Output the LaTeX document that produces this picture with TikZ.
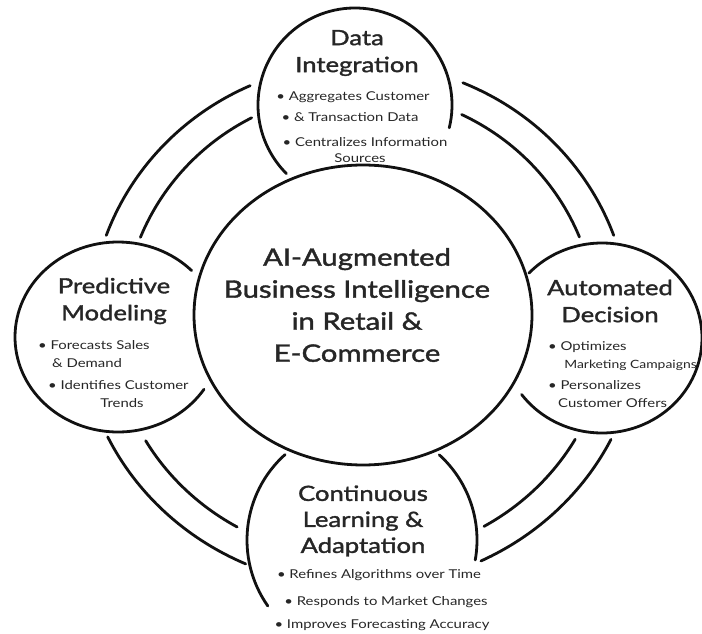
\documentclass[tikz,border=0pt]{standalone}
\usepackage{fontspec}
\setmainfont{Lato}[FakeStretch=1.22]
\newfontfamily\headfont{Lato}[FakeStretch=1.22, FakeBold=1.6]
\usetikzlibrary{shapes.geometric}
\definecolor{ink}{HTML}{111111}
\definecolor{txt}{HTML}{262626}

\tikzset{
  ringline/.style={draw=ink, line width=2.8pt, line cap=round},
  hubtitle/.style={text=txt, align=center, inner sep=0pt,
    font=\headfont\fontsize{24}{32}\selectfont},
  cardtitle/.style={text=txt, align=center, inner sep=0pt,
    font=\headfont\fontsize{21}{27}\selectfont},
  bullet/.style={text=txt, inner sep=0pt,
    font=\fontsize{12.2}{15}\selectfont},
}

\begin{document}
\begin{tikzpicture}[x=1pt, y=-1pt]
\useasboundingbox (0,0) rectangle (702,634);

% centres of the rings and the four topic circles
\coordinate (ringtop) at (360,325);
\coordinate (ringbot) at (360,322);
\coordinate (dataC)   at (355,105);
\coordinate (predC)   at (118,337);
\coordinate (autoC)   at (602,338);
\coordinate (learnC)  at (362,540);

% central hub
\node[ellipse, ringline, minimum width=338pt, minimum height=300pt, inner sep=0pt] (hub) at (363,315) {};
\node[hubtitle] (hubtext) at (357,305) {AI-Augmented\\Business Intelligence\\in Retail \&\\E-Commerce};

% outer ring, one arc per quarter
\draw[ringline] (ringtop) ++(114:270pt and 262pt) arc[start angle=114, end angle=160, x radius=270pt, y radius=262pt];
\draw[ringline] (ringtop) ++(20:270pt and 262pt) arc[start angle=20, end angle=67.6, x radius=270pt, y radius=262pt];
\draw[ringline] (ringbot) ++(205.7:280pt and 265pt) arc[start angle=205.7, end angle=245.9, x radius=280pt, y radius=265pt];
\draw[ringline] (ringbot) ++(295.6:280pt and 265pt) arc[start angle=295.6, end angle=333.7, x radius=280pt, y radius=265pt];

% inner ring
\draw[ringline] (ringtop) ++(117.2:237pt and 233pt) arc[start angle=117.2, end angle=157.9, x radius=237pt, y radius=233pt];
\draw[ringline] (ringtop) ++(22.2:237pt and 233pt) arc[start angle=22.2, end angle=64.6, x radius=237pt, y radius=233pt];
\draw[ringline] (ringbot) ++(210.2:248pt and 236pt) arc[start angle=210.2, end angle=240.3, x radius=248pt, y radius=236pt];
\draw[ringline] (ringbot) ++(300:248pt and 236pt) arc[start angle=300, end angle=330.2, x radius=248pt, y radius=236pt];

% topic circles, left open where they meet the hub and the rings
\draw[ringline] (dataC) ++(-13.6:97pt) arc[start angle=-13.6, end angle=225, radius=97pt];
\draw[ringline] (predC) ++(44.4:103pt and 95pt) arc[start angle=44.4, end angle=326.6, x radius=103pt, y radius=95pt];
\draw[ringline] (autoC) ++(216.5:100pt and 95pt) arc[start angle=216.5, end angle=497, x radius=100pt, y radius=95pt];
\draw[ringline] (learnC) ++(132:115pt) arc[start angle=132, end angle=215, radius=115pt];
\draw[ringline] (learnC) ++(47.8:115pt) arc[start angle=47.8, end angle=-10, radius=115pt];

% Data Integration
\node[cardtitle] (dataT) at (357,53) {Data\\Integration};
\node[bullet] (dataA) at (353,97)  {• Aggregates Customer};
\node[bullet] (dataB) at (350,117) {• \& Transaction Data};
\node[bullet] (dataC1) at (365,142) {• Centralizes Information};
\node[bullet] (dataD) at (360,158) {Sources};

% Predictive Modeling
\node[cardtitle] (predT) at (114,301) {Predictive\\Modeling};
\node[bullet, anchor=west] (predA) at (38,345)  {• Forecasts Sales};
\node[bullet, anchor=west] (predB) at (52,363)  {\& Demand};
\node[bullet, anchor=west] (predC1) at (48,385) {• Identifies Customer};
\node[bullet] (predD) at (122,403) {Trends};

% Automated Decision
\node[cardtitle] (autoT) at (610,301) {Automated\\Decision};
\node[bullet, anchor=west] (autoA) at (548,347) {• Optimizes};
\node[bullet, anchor=east, font=\fontsize{11.4}{15}\selectfont] (autoB) at (697,365) {Marketing Campaigns};
\node[bullet, anchor=west] (autoC1) at (548,385) {• Personalizes};
\node[bullet, anchor=west] (autoD) at (558,403) {Customer Offers};

% Continuous Learning & Adaptation
\node[cardtitle, font=\headfont\fontsize{21}{26}\selectfont] (learnT) at (363,521) {Continuous\\Learning \&\\Adaptation};
\node[bullet] (learnA) at (379,575) {• Refines Algorithms over Time};
\node[bullet] (learnB) at (386,602) {• Responds to Market Changes};
\node[bullet] (learnC1) at (382,625) {• Improves Forecasting Accuracy};
\end{tikzpicture}
\end{document}
